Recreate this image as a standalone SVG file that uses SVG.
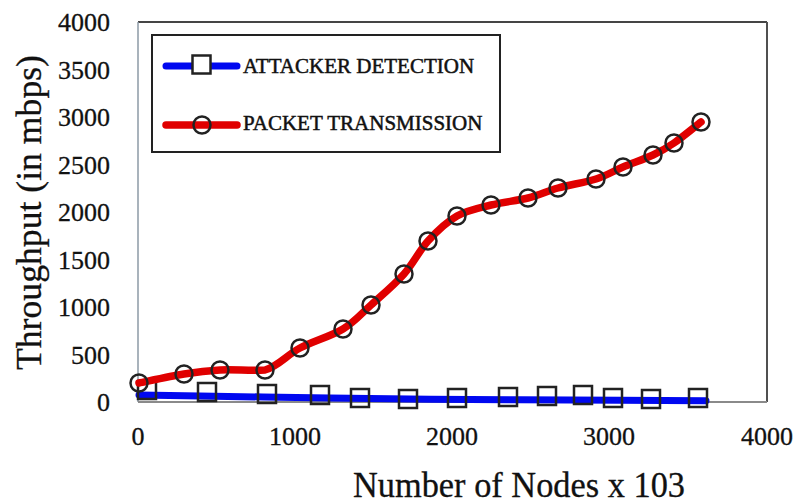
<svg xmlns="http://www.w3.org/2000/svg" width="795" height="504" viewBox="0 0 795 504">
<defs>
<style>
text{font-family:"Liberation Serif","Times New Roman",serif;fill:#111;stroke:#111;stroke-width:0.3}
.tick{font-size:26px}
.ytick{text-anchor:end}
.xtick{text-anchor:middle}
.leg{font-size:21px;stroke-width:0.5}
.title{font-size:36px}
.sq{fill:none;stroke:#222;stroke-width:2.5}
.ci{fill:none;stroke:#222;stroke-width:2.5}
.blue{fill:none;stroke:#0008f0;stroke-width:7;stroke-linecap:round;stroke-linejoin:round}
.red{fill:none;stroke:#e00000;stroke-width:7.5;stroke-linecap:round;stroke-linejoin:round}
</style>
<rect id="sqm" x="-9" y="-9" width="18" height="18"/>
</defs>
<rect width="795" height="504" fill="#fff"/>

<g id="frame">
<line x1="138" y1="22" x2="767" y2="22" stroke="#454545" stroke-width="2"/>
<line x1="767" y1="22" x2="767" y2="402" stroke="#505050" stroke-width="2"/>
<line x1="138" y1="22" x2="138" y2="402" stroke="#8c9aa6" stroke-width="1.5"/>
<line x1="138" y1="402" x2="767" y2="402" stroke="#8a8a8a" stroke-width="2"/>
</g>

<g id="y-ticks" class="tick">
<text class="tick ytick" x="110" y="31">4000</text>
<text class="tick ytick" x="110" y="78.5">3500</text>
<text class="tick ytick" x="110" y="126">3000</text>
<text class="tick ytick" x="110" y="173.5">2500</text>
<text class="tick ytick" x="110" y="221">2000</text>
<text class="tick ytick" x="110" y="268.5">1500</text>
<text class="tick ytick" x="110" y="316">1000</text>
<text class="tick ytick" x="110" y="363.5">500</text>
<text class="tick ytick" x="110" y="411">0</text>
</g>

<g id="x-ticks" class="tick">
<text class="tick xtick" x="138" y="445">0</text>
<text class="tick xtick" x="295" y="445">1000</text>
<text class="tick xtick" x="452" y="445">2000</text>
<text class="tick xtick" x="609" y="445">3000</text>
<text class="tick xtick" x="767" y="445">4000</text>
</g>

<g id="axis-titles">
<text class="title" x="353" y="497" textLength="332" lengthAdjust="spacingAndGlyphs">Number of Nodes x 103</text>
<text class="title" transform="translate(41,212.5) rotate(-90)" text-anchor="middle" textLength="315" lengthAdjust="spacingAndGlyphs">Throughput (in mbps)</text>
</g>

<g id="legend">
<rect x="152" y="35" width="348" height="117" fill="#fff" stroke="#222" stroke-width="2"/>
<line class="blue" x1="166" y1="66" x2="237" y2="66"/>
<use href="#sqm" class="sq" x="201.5" y="64.5" style="fill:#fff"/>
<text class="leg" x="243" y="73">ATTACKER DETECTION</text>
<line class="red" x1="166" y1="125" x2="237" y2="125"/>
<circle class="ci" cx="202" cy="125" r="8.5"/>
<text class="leg" x="243" y="130">PACKET TRANSMISSION</text>
</g>

<g id="series-attacker-detection">
<path class="blue" d="M139,395 L200,396 L263,397 L330,398 L430,399.3 L520,399.8 L620,400.2 L706,400.7"/>
<use href="#sqm" class="sq" x="147" y="390"/>
<use href="#sqm" class="sq" x="207" y="392"/>
<use href="#sqm" class="sq" x="267" y="394"/>
<use href="#sqm" class="sq" x="320" y="395"/>
<use href="#sqm" class="sq" x="360" y="398"/>
<use href="#sqm" class="sq" x="408" y="399"/>
<use href="#sqm" class="sq" x="457" y="398"/>
<use href="#sqm" class="sq" x="508" y="397"/>
<use href="#sqm" class="sq" x="547" y="396"/>
<use href="#sqm" class="sq" x="583" y="395"/>
<use href="#sqm" class="sq" x="613" y="398"/>
<use href="#sqm" class="sq" x="651" y="399"/>
<use href="#sqm" class="sq" x="698" y="398"/>
</g>

<g id="series-packet-transmission">
<path class="red" d="M139,383 C146.5,381.5 170.5,376.2 184,374 C197.5,371.8 206.5,370.7 220,370 C233.5,369.3 252,371 265,370 C278.3,366.3 287,354.8 300,348 C313,341.2 331.2,336.2 343,329 C354.8,321.8 360.8,314.2 371,305 C381.2,295.8 394.5,284.7 404,274 C413.5,263.3 419.2,250.7 428,241 C436.8,231.3 446.5,222 457,216 C467.5,210 479.2,208 491,205 C502.8,202 516.8,200.8 528,198 C539.2,195.2 546.7,191.2 558,188 C569.3,184.8 585.2,182.5 596,179 C606.8,175.5 613.5,171 623,167 C632.5,163 644.5,159 653,155 C661.5,151 666,148.5 674,143 C682,137.5 696.5,125.5 701,122"/>
<circle class="ci" cx="139" cy="383" r="8.5"/>
<circle class="ci" cx="184" cy="374" r="8.5"/>
<circle class="ci" cx="220" cy="370" r="8.5"/>
<circle class="ci" cx="265" cy="370" r="8.5"/>
<circle class="ci" cx="300" cy="348" r="8.5"/>
<circle class="ci" cx="343" cy="329" r="8.5"/>
<circle class="ci" cx="371" cy="305" r="8.5"/>
<circle class="ci" cx="404" cy="274" r="8.5"/>
<circle class="ci" cx="428" cy="241" r="8.5"/>
<circle class="ci" cx="457" cy="216" r="8.5"/>
<circle class="ci" cx="491" cy="205" r="8.5"/>
<circle class="ci" cx="528" cy="198" r="8.5"/>
<circle class="ci" cx="558" cy="188" r="8.5"/>
<circle class="ci" cx="596" cy="179" r="8.5"/>
<circle class="ci" cx="623" cy="167" r="8.5"/>
<circle class="ci" cx="653" cy="155" r="8.5"/>
<circle class="ci" cx="674" cy="143" r="8.5"/>
<circle class="ci" cx="701" cy="122" r="8.5"/>
</g>
</svg>
